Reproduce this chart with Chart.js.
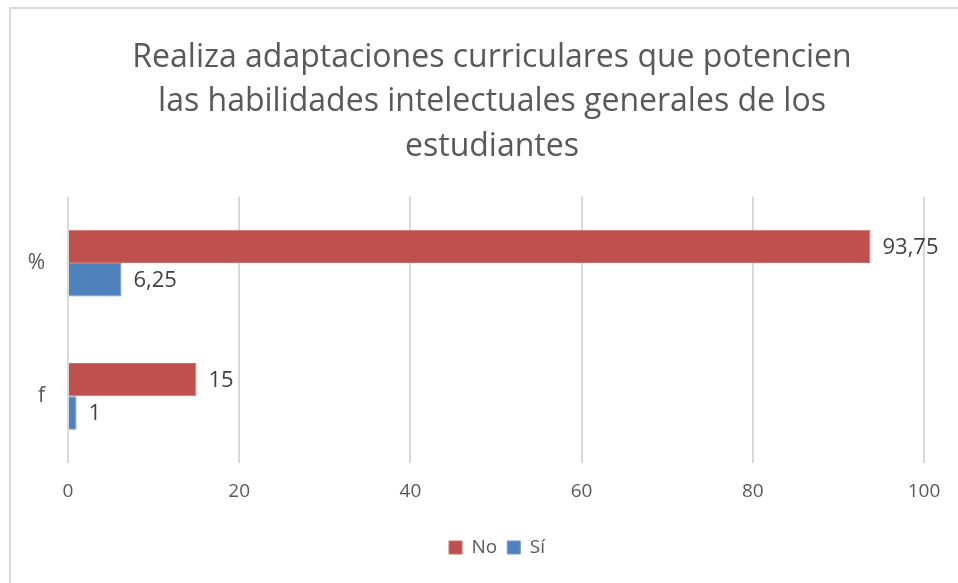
<!DOCTYPE html>
<html>
<head>
<meta charset="utf-8">
<script src="https://cdn.jsdelivr.net/npm/chart.js@4.4.1/dist/chart.umd.min.js"></script>
<style>
  html, body { margin: 0; padding: 0; background: #fff; }
  #wrap { position: relative; width: 958px; height: 583px; }
  #frame { position: absolute; left: 9px; top: 7px; right: 0; bottom: 0;
           border-left: 2px solid #d9d9d9; border-top: 2px solid #d9d9d9; pointer-events: none; }
</style>
</head>
<body>
<div id="wrap">
  <canvas id="chart" width="958" height="583"></canvas>
  <div id="frame"></div>
</div>
<script>
'use strict';

const categories = ['%', 'f'];
const noValues = [93.75, 15];
const siValues = [6.25, 1];
const xTicks = [0, 20, 40, 60, 80, 100];

const COLORS = {
  no: '#C0504D',
  si: '#4F81BD',
  text: '#595959',
  label: '#404040',
  grid: '#d9d9d9'
};

const FONT = "'Open Sans', 'Noto Sans', sans-serif";

// value labels at the end of each bar, with comma decimals
const barLabels = {
  id: 'barLabels',
  afterDatasetsDraw(chart) {
    const ctx = chart.ctx;
    ctx.save();
    ctx.font = '22px ' + FONT;
    ctx.fillStyle = COLORS.label;
    ctx.textAlign = 'left';
    ctx.textBaseline = 'middle';
    chart.data.datasets.forEach((ds, i) => {
      chart.getDatasetMeta(i).data.forEach((bar, j) => {
        const txt = String(ds.data[j]).replace('.', ',');
        ctx.fillText(txt, bar.x + 12, bar.y + 1);
      });
    });
    ctx.restore();
  }
};

// the original frame is wider than the plot, so title and legend sit a bit right of centre
const shiftBoxes = {
  id: 'shiftBoxes',
  afterLayout(chart) {
    chart.titleBlock.left += 20;
    chart.titleBlock.right += 20;
    chart.legend.left += 25;
    chart.legend.right += 25;
  }
};

new Chart(document.getElementById('chart'), {
  type: 'bar',
  data: {
    labels: categories,
    datasets: [
      {
        label: 'No',
        data: noValues,
        backgroundColor: COLORS.no,
        borderColor: '#c9706d',
        borderWidth: 1,
        categoryPercentage: 0.5,
        barPercentage: 1
      },
      {
        label: 'Sí',
        data: siValues,
        backgroundColor: COLORS.si,
        borderColor: '#7097c9',
        borderWidth: 1,
        categoryPercentage: 0.5,
        barPercentage: 1
      }
    ]
  },
  options: {
    indexAxis: 'y',
    responsive: false,
    animation: false,
    layout: { padding: { left: 20, right: 34, top: 35, bottom: 16 } },
    scales: {
      x: {
        min: 0,
        max: 100,
        afterBuildTicks(scale) {
          scale.ticks = xTicks.map(v => ({ value: v }));
        },
        afterFit(scale) { scale.height = 65; },
        grid: { color: COLORS.grid, lineWidth: 2, drawTicks: false },
        border: { display: false },
        ticks: { color: COLORS.text, font: { family: FONT, size: 19 }, padding: 17 }
      },
      y: {
        afterFit(scale) { scale.width = 48; },
        grid: { display: false, drawTicks: false },
        border: { display: false },
        ticks: { color: COLORS.text, font: { family: FONT, size: 21 }, padding: 23 }
      }
    },
    plugins: {
      title: {
        display: true,
        text: [
          'Realiza adaptaciones curriculares que potencien',
          'las habilidades intelectuales generales de los',
          'estudiantes'
        ],
        color: COLORS.text,
        font: { family: FONT, size: 32, weight: 'normal', lineHeight: 1.4 },
        padding: { top: 0, bottom: 27 }
      },
      legend: {
        position: 'bottom',
        labels: {
          color: COLORS.text,
          font: { family: FONT, size: 19 },
          boxWidth: 13,
          boxHeight: 13,
          padding: 10
        }
      },
      tooltip: { enabled: false }
    }
  },
  plugins: [barLabels, shiftBoxes]
});
</script>
</body>
</html>
